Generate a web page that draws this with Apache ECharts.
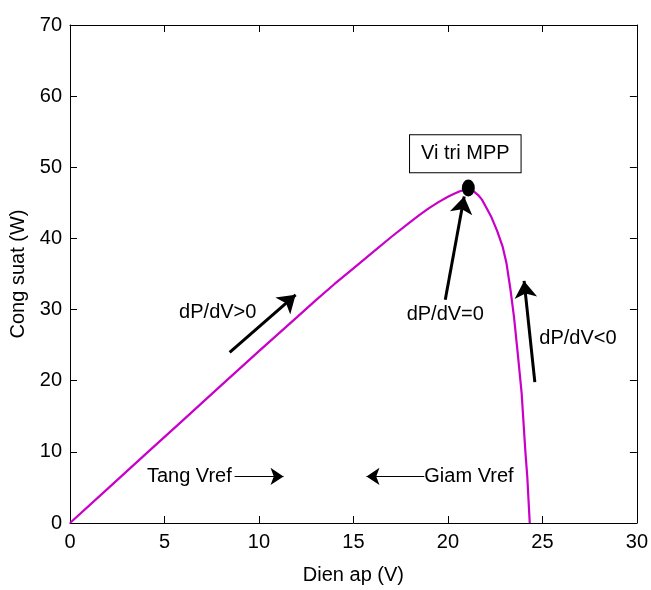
<!DOCTYPE html>
<html><head><meta charset="utf-8">
<script src="https://cdn.jsdelivr.net/npm/echarts@6/dist/echarts.min.js"></script>
<style>html,body{margin:0;padding:0;background:#fff;overflow:hidden}#c{width:651px;height:590px}</style>
</head><body><div id="c"></div>
<script>
// P-V curve (V, W)
const voltage = [0, 2, 4, 6, 8, 10, 12, 13, 14, 15, 16, 17, 18, 18.5, 19, 19.5, 20, 20.3, 20.6, 20.85, 21.1, 21.35, 21.6, 21.8, 22, 22.3, 22.6, 22.9, 23.1, 23.3, 23.5, 23.7, 23.9, 24.1, 24.2, 24.33];
const power   = [0, 4.84, 9.68, 14.5, 19.35, 24.15, 28.9, 31.3, 33.6, 35.8, 38.0, 40.2, 42.3, 43.3, 44.25, 45.1, 45.85, 46.25, 46.6, 46.8, 46.85, 46.65, 46.1, 45.45, 44.5, 43.0, 41.1, 38.8, 36.5, 33.0, 28.9, 23.7, 18.3, 10.0, 6.5, 0];
const mpp = [21.08, 47.1];
const xTicks = [0, 5, 10, 15, 20, 25, 30];
const yTicks = [0, 10, 20, 30, 40, 50, 60, 70];
// annotation arrows: [startV, startP, endV, endP]
const bigArrows = [[8.45, 24.0, 11.94, 32.07], [19.86, 31.38, 20.86, 45.88], [24.6, 19.8, 24.03, 34.03]];
const thinArrows = [[8.71, 6.55, 11.30, 6.55], [18.75, 6.55, 15.69, 6.55]];
const labelTexts = ['dP/dV>0', 'dP/dV=0', 'dP/dV<0'];
const labelPos = [[7.82, 29.56], [19.86, 29.3], [26.88, 25.9]];
const sideTexts = ['Tang Vref', 'Giam Vref'];
const sidePos = [[4.07, 6.55], [18.75, 6.55]];
const boxText = 'Vi tri MPP';
const boxPos = [20.92, 51.9];

const FONT = '"Liberation Sans", Arial, sans-serif';
const chart = echarts.init(document.getElementById('c'), null, {renderer: 'canvas', width: 651, height: 590});
const axisCommon = {
  axisLine: {show: true, onZero: false, lineStyle: {color: '#000', width: 1}},
  axisTick: {show: true, inside: true, length: 7, lineStyle: {color: '#000'}},
  splitLine: {show: false}
};
const txt = {fontFamily: FONT, fontSize: 20, color: '#000', textBorderWidth: 0, textBorderColor: 'transparent'};
chart.setOption({
  animation: false,
  backgroundColor: '#fff',
  grid: {left: 70, top: 25, width: 568, height: 502},
  xAxis: [
    Object.assign({type: 'value', min: 0, max: 30, interval: 5, position: 'bottom',
      name: 'Dien ap (V)', nameLocation: 'middle', nameGap: 42,
      nameTextStyle: {fontFamily: FONT, fontSize: 20, color: '#000'},
      axisLabel: {margin: 9, fontFamily: FONT, fontSize: 20, color: '#000',
        formatter: v => xTicks.includes(v) ? String(v) : ''}}, axisCommon),
    Object.assign({type: 'value', min: 0, max: 30, interval: 5, position: 'top',
      axisLabel: {show: false}}, axisCommon)
  ],
  yAxis: [
    Object.assign({type: 'value', min: 0, max: 70, interval: 10, position: 'left',
      name: 'Cong suat (W)', nameLocation: 'middle', nameGap: 31, nameRotate: 90,
      nameTextStyle: {fontFamily: FONT, fontSize: 20, color: '#000'},
      axisLabel: {margin: 8, fontFamily: FONT, fontSize: 20, color: '#000',
        formatter: v => yTicks.includes(v) ? String(v) : ''}}, axisCommon),
    Object.assign({type: 'value', min: 0, max: 70, interval: 10, position: 'right',
      axisLabel: {show: false}}, axisCommon)
  ],
  series: [
    {type: 'line', data: voltage.map((v, i) => [v, power[i]]), showSymbol: false,
     smooth: false,
     lineStyle: {color: '#c800c8', width: 2.2}, z: 3},
    {type: 'scatter', data: [mpp], symbol: 'circle', symbolSize: [13, 17],
     itemStyle: {color: '#000', opacity: 1}, z: 5},
    {type: 'lines', coordinateSystem: 'cartesian2d', z: 4,
     symbol: ['none', 'arrow'], symbolSize: [0, 17],
     lineStyle: {color: '#000', width: 3, opacity: 1},
     data: bigArrows.map(a => ({coords: [[a[0], a[1]], [a[2], a[3]]]}))},
    {type: 'lines', coordinateSystem: 'cartesian2d', z: 4,
     symbol: ['none', 'arrow'], symbolSize: [0, 13],
     lineStyle: {color: '#000', width: 1, opacity: 1},
     data: thinArrows.map(a => ({coords: [[a[0], a[1]], [a[2], a[3]]]}))},
    {type: 'scatter', symbolSize: 0, z: 6, itemStyle: {opacity: 1},
     data: labelPos.map((p, i) => ({value: p, name: labelTexts[i]})),
     label: Object.assign({show: true, position: 'inside', formatter: p => p.name}, txt)},
    {type: 'scatter', symbolSize: 0, z: 6, itemStyle: {opacity: 1},
     data: sidePos.map((p, i) => ({value: p, name: sideTexts[i]})),
     label: Object.assign({show: true, position: 'right', distance: 0, formatter: p => p.name}, txt)},
    {type: 'scatter', symbolSize: 0, z: 6, itemStyle: {opacity: 1},
     data: [{value: boxPos, name: boxText}],
     label: Object.assign({show: true, position: 'inside', formatter: p => p.name,
       backgroundColor: '#fff', borderColor: '#000', borderWidth: 1,
       padding: [9, 11, 8, 11]}, txt)}
  ]
});
</script></body></html>
